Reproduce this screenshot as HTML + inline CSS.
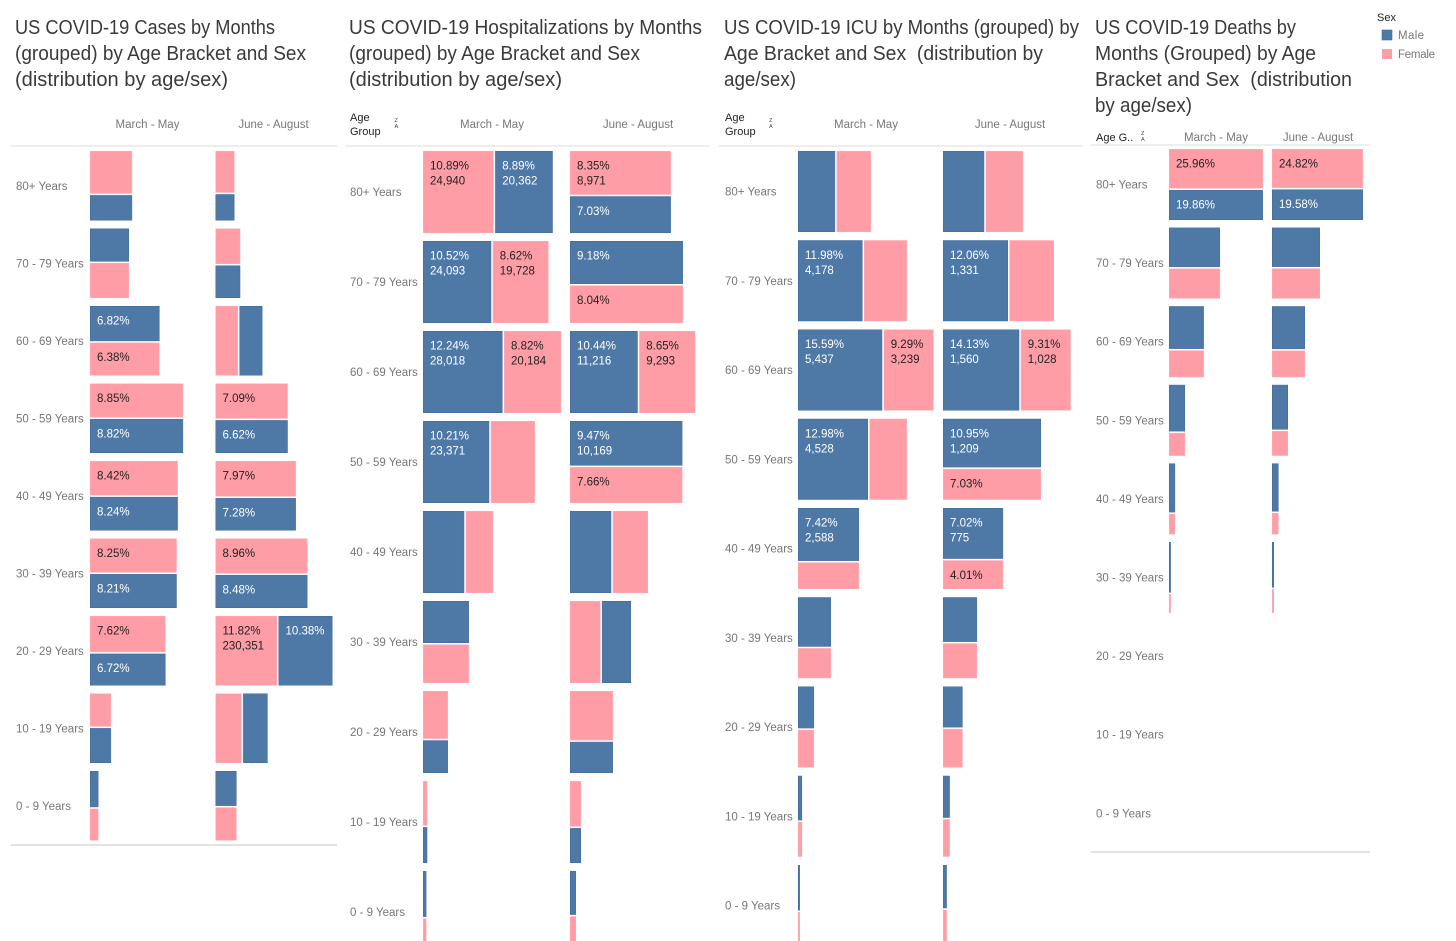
<!DOCTYPE html>
<html lang="en">
<head>
<meta charset="utf-8">
<title>US COVID-19 by Months, Age Bracket and Sex</title>
<style>
html,body{margin:0;padding:0;background:#fff;width:1456px;height:941px;overflow:hidden}
svg{display:block;font-family:"Liberation Sans",sans-serif}
.title{font-size:20px;fill:#3a3a3a}
.axis{font-size:11.5px;fill:#777}
.head{font-size:11px;fill:#222}
.val{font-size:11.5px}
</style>
</head>
<body>
<svg id="chart" width="1456" height="941" viewBox="0 0 1456 941" xmlns="http://www.w3.org/2000/svg">
  <g>
    <text class="title" x="15" y="34" textLength="260" lengthAdjust="spacingAndGlyphs">US COVID-19 Cases by Months</text>
    <text class="title" x="15" y="60" textLength="291" lengthAdjust="spacingAndGlyphs">(grouped) by Age Bracket and Sex</text>
    <text class="title" x="15" y="86" textLength="213" lengthAdjust="spacingAndGlyphs">(distribution by age/sex)</text>
  </g>
  <g>
    <text class="title" x="349" y="34" textLength="353" lengthAdjust="spacingAndGlyphs">US COVID-19 Hospitalizations by Months</text>
    <text class="title" x="349" y="60" textLength="291" lengthAdjust="spacingAndGlyphs">(grouped) by Age Bracket and Sex</text>
    <text class="title" x="349" y="86" textLength="213" lengthAdjust="spacingAndGlyphs">(distribution by age/sex)</text>
  </g>
  <g>
    <text class="title" x="724" y="34" textLength="355" lengthAdjust="spacingAndGlyphs">US COVID-19 ICU by Months (grouped) by</text>
    <text class="title" x="724" y="60" textLength="319" lengthAdjust="spacingAndGlyphs" xml:space="preserve">Age Bracket and Sex  (distribution by</text>
    <text class="title" x="724" y="86" textLength="72" lengthAdjust="spacingAndGlyphs">age/sex)</text>
  </g>
  <g>
    <text class="title" x="1095" y="34" textLength="201" lengthAdjust="spacingAndGlyphs">US COVID-19 Deaths by</text>
    <text class="title" x="1095" y="60" textLength="221" lengthAdjust="spacingAndGlyphs">Months (Grouped) by Age</text>
    <text class="title" x="1095" y="86" textLength="257" lengthAdjust="spacingAndGlyphs" xml:space="preserve">Bracket and Sex  (distribution</text>
    <text class="title" x="1095" y="112" textLength="97" lengthAdjust="spacingAndGlyphs">by age/sex)</text>
  </g>

  <g>
    <text class="head" x="1377" y="21">Sex</text>
    <g>
      <rect x="1382" y="30" width="10" height="10" fill="#4e79a7" stroke="#3a6798" stroke-width="0.6"/>
      <text class="axis" x="1398" y="39" textLength="26">Male</text>
    </g>
    <g>
      <rect x="1382" y="49" width="10" height="10" fill="#ff9da7"/>
      <text class="axis" x="1398" y="58" textLength="37">Female</text>
    </g>
  </g>

  <g>
    <text class="head" x="350" y="121">Age</text>
    <text class="head" x="350" y="135">Group</text>
  </g>
  <g>
    <text x="394.5" y="122" font-size="5.5" fill="#444">Z</text>
    <text x="394.5" y="128" font-size="5.5" fill="#444">A</text>
  </g>
  <g>
    <text class="head" x="725" y="121">Age</text>
    <text class="head" x="725" y="135">Group</text>
  </g>
  <g>
    <text x="769" y="122" font-size="5.5" fill="#444">Z</text>
    <text x="769" y="128" font-size="5.5" fill="#444">A</text>
  </g>
  <g>
    <text class="head" x="1096" y="141">Age G..</text>
  </g>
  <g>
    <text x="1141" y="135" font-size="5.5" fill="#444">Z</text>
    <text x="1141" y="141" font-size="5.5" fill="#444">A</text>
  </g>
</svg>

<script>
const ageGroups = ['80+ Years','70 - 79 Years','60 - 69 Years','50 - 59 Years','40 - 49 Years','30 - 39 Years','20 - 29 Years','10 - 19 Years','0 - 9 Years'];
const periods = ['March - May','June - August'];

const casesMarchMale     = [3.0, 3.6, 6.82, 8.82, 8.24, 8.21, 6.72, 2.05, 0.85];
const casesMarchFemale   = [5.0, 3.8, 6.38, 8.85, 8.42, 8.25, 7.62, 1.95, 0.75];
const casesJuneMale      = [1.4, 2.25, 4.5, 6.62, 7.28, 8.48, 10.38, 4.8, 2.05];
const casesJuneFemale    = [2.2, 2.45, 4.4, 7.09, 7.97, 8.96, 11.82, 5.1, 1.95];
/* Treemap arrangement per cell: F/M stacked female first, M|F side by side male first, etc. */
const casesMarchLayout   = ['F/M','M/F','M/F','F/M','F/M','F/M','F/M','F/M','M/F'];
const casesJuneLayout    = ['F/M','F/M','F|M','F/M','F/M','F/M','F|M','F|M','M/F'];
/* How many marks in the cell carry a printed label: 0 none, 1 first mark only, 2 both. */
const casesMarchLabelled = [0,0,2,2,2,2,2,0,0];
const casesJuneLabelled  = [0,0,0,2,2,2,2,0,0];
const casesMarchCountM   = [null,null,null,null,null,null,null,null,null];
const casesMarchCountF   = [null,null,null,null,null,null,null,null,null];
const casesJuneCountM    = [null,null,null,null,null,null,null,null,null];
const casesJuneCountF    = [null,null,null,null,null,null,230351,null,null];

const hospMarchMale      = [8.89, 10.52, 12.24, 10.21, 6.4, 3.65, 1.55, 0.29, 0.29];
const hospMarchFemale    = [10.89, 8.62, 8.82, 6.85, 4.3, 3.35, 2.25, 0.36, 0.22];
const hospJuneMale       = [7.03, 9.18, 10.44, 9.47, 6.4, 4.55, 2.55, 0.73, 0.5];
const hospJuneFemale     = [8.35, 8.04, 8.65, 7.66, 5.5, 4.75, 4.0, 0.95, 0.42];
const hospMarchLayout    = ['F|M','M|F','M|F','M|F','M|F','M/F','F/M','F/M','M/F'];
const hospJuneLayout     = ['F/M','M/F','M|F','M/F','M|F','F|M','F/M','F/M','M/F'];
const hospMarchLabelled  = [2,2,2,1,0,0,0,0,0];
const hospJuneLabelled   = [2,2,2,2,0,0,0,0,0];
const hospMarchCountM    = [20362,24093,28018,23371,null,null,null,null,null];
const hospMarchCountF    = [24940,19728,20184,null,null,null,null,null,null];
const hospJuneCountM     = [null,null,11216,10169,null,null,null,null,null];
const hospJuneCountF     = [8971,null,9293,null,null,null,null,null,null];

const icuMarchMale       = [6.95, 11.98, 15.59, 12.98, 7.42, 3.75, 1.55, 0.42, 0.2];
const icuMarchFemale     = [6.45, 8.0, 9.29, 7.0, 3.78, 2.3, 1.4, 0.33, 0.15];
const icuJuneMale        = [7.7, 12.06, 14.13, 10.95, 7.02, 3.5, 1.85, 0.66, 0.38];
const icuJuneFemale      = [7.0, 8.3, 9.31, 7.03, 4.01, 2.75, 1.75, 0.59, 0.32];
const icuMarchLayout     = ['M|F','M|F','M|F','M|F','M/F','M/F','M/F','M/F','M/F'];
const icuJuneLayout      = ['M|F','M|F','M|F','M/F','M/F','M/F','M/F','M/F','M/F'];
const icuMarchLabelled   = [0,1,2,1,1,0,0,0,0];
const icuJuneLabelled    = [0,1,2,2,2,0,0,0,0];
const icuMarchCountM     = [null,4178,5437,4528,2588,null,null,null,null];
const icuMarchCountF     = [null,null,3239,null,null,null,null,null,null];
const icuJuneCountM      = [null,1331,1560,1209,775,null,null,null,null];
const icuJuneCountF      = [null,null,1028,null,null,null,null,null,null];

const deathsMarchMale    = [19.86, 14.1, 10.4, 5.2, 2.1, 0.65, 0, 0, 0];
const deathsMarchFemale  = [25.96, 10.8, 6.6, 2.6, 0.9, 0.25, 0, 0, 0];
const deathsJuneMale     = [19.58, 13.2, 9.9, 5.0, 2.2, 0.62, 0, 0, 0];
const deathsJuneFemale   = [24.82, 10.2, 6.2, 2.8, 1.0, 0.33, 0, 0, 0];
const deathsMarchLayout  = ['F/M','M/F','M/F','M/F','M/F','M/F','M/F','M/F','M/F'];
const deathsJuneLayout   = ['F/M','M/F','M/F','M/F','M/F','M/F','M/F','M/F','M/F'];
const deathsMarchLabelled= [2,0,0,0,0,0,0,0,0];
const deathsJuneLabelled = [2,0,0,0,0,0,0,0,0];
const noCounts           = [null,null,null,null,null,null,null,null,null];

const svgNS = 'http://www.w3.org/2000/svg';
const root = document.getElementById('chart');

function svgEl(tag, attrs, parent) {
  const el = document.createElementNS(svgNS, tag);
  for (const k in attrs) el.setAttribute(k, attrs[k]);
  parent.appendChild(el);
  return el;
}

const panels = [
  { key:'cases', left:11, right:337, rule:146, bottomRule:845, labelX:16, top:151, pitch:77.5, rowH:69.5, k:5.27, colX:[90,215.5], headX:[147.5,273.5], headY:128,
    data:[[casesMarchMale,casesMarchFemale,casesMarchLayout,casesMarchLabelled,casesMarchCountM,casesMarchCountF],
          [casesJuneMale,casesJuneFemale,casesJuneLayout,casesJuneLabelled,casesJuneCountM,casesJuneCountF]] },
  { key:'hospitalizations', left:345, right:710, rule:146, bottomRule:null, labelX:350, top:151, pitch:90, rowH:82, k:6.56, colX:[423,570], headX:[492,638], headY:128,
    data:[[hospMarchMale,hospMarchFemale,hospMarchLayout,hospMarchLabelled,hospMarchCountM,hospMarchCountF],
          [hospJuneMale,hospJuneFemale,hospJuneLayout,hospJuneLabelled,hospJuneCountM,hospJuneCountF]] },
  { key:'icu', left:719, right:1083, rule:146, bottomRule:null, labelX:725, top:151, pitch:89.25, rowH:81, k:5.45, colX:[798,943], headX:[866,1010], headY:128,
    data:[[icuMarchMale,icuMarchFemale,icuMarchLayout,icuMarchLabelled,icuMarchCountM,icuMarchCountF],
          [icuJuneMale,icuJuneFemale,icuJuneLayout,icuJuneLabelled,icuJuneCountM,icuJuneCountF]] },
  { key:'deaths', left:1091, right:1370, rule:145, bottomRule:852, labelX:1096, top:149, pitch:78.6, rowH:71, k:2.05, colX:[1169,1272], headX:[1216,1318], headY:141,
    data:[[deathsMarchMale,deathsMarchFemale,deathsMarchLayout,deathsMarchLabelled,noCounts,noCounts],
          [deathsJuneMale,deathsJuneFemale,deathsJuneLayout,deathsJuneLabelled,noCounts,noCounts]] }
];

function xScale(p, value) { return value * p.k; }
function yRow(p, i) { return p.top + i * p.pitch; }
const GAP = 1.5;

function drawMark(g, sex, x, y, w, h, pct, count, showPct) {
  const isMale = sex === 'M';
  const r = svgEl('rect', {x:x+0.25, y:y+0.25, width:Math.max(w-0.5,0.6), height:Math.max(h-0.5,0.6),
    fill:isMale?'#4e79a7':'#ff9da7', stroke:isMale?'#3f6c9e':'#ffa9b2', 'stroke-width':0.5}, g);
  
  
  if (showPct) {
    const colour = isMale ? '#ffffff' : '#222222';
    const t = svgEl('text', {class:'val', x:x+7, y:y+18.5, fill:colour}, g);
    
    
    t.textContent = pct.toFixed(2) + '%';
    if (count !== null && count !== undefined) {
      const c = svgEl('text', {class:'val', x:x+7, y:y+33.5, fill:colour}, g);
      
      
      c.textContent = count.toLocaleString('en-US');
    }
  }
}

panels.forEach(function (p) {
  const g = svgEl('g', {}, root);
  
  

  const rule = svgEl('rect', {x:p.left, y:p.rule-0.75, width:p.right-p.left, height:1.5, fill:'#e8e8e8'}, g);
  
  
  if (p.bottomRule) {
    const b = svgEl('rect', {x:p.left, y:p.bottomRule-0.75, width:p.right-p.left, height:1.5, fill:'#d8d8d8'}, g);
    
    
  }

  periods.forEach(function (name, c) {
    const h = svgEl('text', {class:'axis', x:p.headX[c], y:p.headY, 'text-anchor':'middle'}, g);
    
    
    h.textContent = name;
  });

  ageGroups.forEach(function (age, i) {
    const y = yRow(p, i);
    const lab = svgEl('text', {class:'axis', x:p.labelX, y:y + p.rowH/2 + 4}, g);
    
    
    lab.textContent = age;

    periods.forEach(function (name, c) {
      const d = p.data[c];
      const male = d[0][i], female = d[1][i], layout = d[2][i], shown = d[3][i];
      const total = male + female;
      if (total <= 0) return;
      const W = xScale(p, total), H = p.rowH, x0 = p.colX[c];
      const first = layout[0], second = layout[2], vertical = layout[1] === '/';
      const val = { M: male, F: female };
      const cnt = { M: d[4][i], F: d[5][i] };
      const frac = val[first] / total;
      if (vertical) {
        const s = H * frac;
        drawMark(g, first, x0, y, W, s - GAP/2, val[first], cnt[first], shown >= 1);
        drawMark(g, second, x0, y + s + GAP/2, W, H - s - GAP/2, val[second], cnt[second], shown >= 2);
      } else {
        const s = W * frac;
        drawMark(g, first, x0, y, s - GAP/2, H, val[first], cnt[first], shown >= 1);
        drawMark(g, second, x0 + s + GAP/2, y, W - s - GAP/2, H, val[second], cnt[second], shown >= 2);
      }
    });
  });
});
</script>
</body>
</html>
